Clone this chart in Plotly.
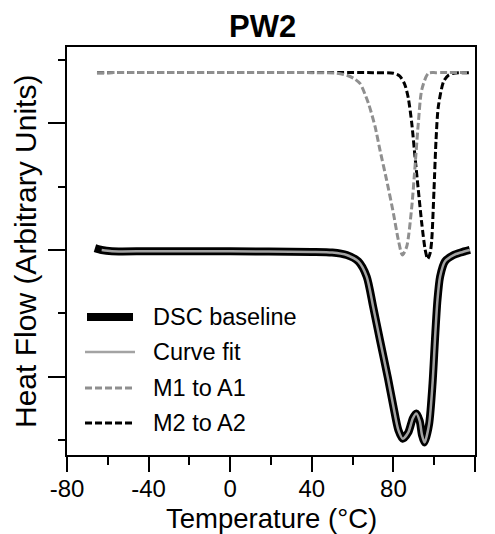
import plotly.graph_objects as go

# ---------------- data ----------------
dsc_temp = [-66.3, -63, -58, -40, 0, 40, 50, 57.1, 62.8, 66.9, 70.1, 73.4, 77.3, 80, 82.4,
            84.6, 87.3, 89.5, 91.2, 92.9, 94.0, 95.3, 97.5, 99.2, 100.4, 101.6, 102.9,
            105.3, 109.5, 113, 117.5]
dsc_heat = [3.03, 3.0, 2.98, 2.98, 2.98, 2.97, 2.96, 2.92, 2.82, 2.58, 2.1, 1.58, 0.98, 0.53, 0.16,
            0.02, 0.12, 0.34, 0.42, 0.3, 0.08, -0.04, 0.25, 0.9, 1.6, 2.21, 2.58,
            2.82, 2.92, 2.96, 3.0]

fit_temp = [-63, -58, -40, 0, 40, 50, 57.1, 62.8, 66.9, 70.1, 73.4, 77.3, 80, 82.4,
            84.6, 87.3, 89.5, 91.2, 92.9, 94.0, 95.3, 97.5, 99.2, 100.4, 101.6, 102.9,
            105.3, 109.5, 113, 117.5]
fit_heat = [3.0, 2.98, 2.98, 2.98, 2.97, 2.96, 2.92, 2.82, 2.58, 2.1, 1.58, 0.98, 0.53, 0.16,
            0.02, 0.12, 0.34, 0.42, 0.3, 0.08, -0.04, 0.25, 0.9, 1.6, 2.21, 2.58,
            2.82, 2.92, 2.96, 3.0]

m1_temp = [-65.3, 40, 52, 57, 60.5, 63.6, 67.7, 71, 73.4, 76.7, 80, 82.4, 84.4, 86.5,
           89, 90.6, 92.2, 93.9, 97.1, 101, 117]
m1_heat = [5.8, 5.8, 5.79, 5.76, 5.71, 5.63, 5.32, 4.95, 4.58, 4.1, 3.58, 3.16, 2.92, 3.05,
           3.68, 4.32, 5.0, 5.53, 5.79, 5.8, 5.8]

m2_temp = [-65.3, 70, 80, 83, 85.5, 87.3, 89, 90.6, 92.2, 93.9, 95.6, 96.8, 98, 98.8,
           99.9, 100.9, 102, 104.6, 107, 109.5, 117]
m2_heat = [5.8, 5.8, 5.79, 5.75, 5.62, 5.4, 5.0, 4.47, 3.95, 3.42, 3.0, 2.86, 2.95, 3.16,
           3.95, 4.74, 5.26, 5.66, 5.76, 5.79, 5.8]

legend_labels = ["DSC baseline", "Curve fit", "M1 to A1", "M2 to A2"]
x_tick_vals = [-80, -40, 0, 40, 80, 120]
x_tick_text = ["-80", "-40", "0", "40", "80", "120"]
x_title = "Temperature (°C)"
y_title = "Heat Flow (Arbitrary Units)"
chart_title = "PW2"

# ---------------- styling ----------------
W, H = 495, 534
ML, MR, MT, MB = 67, 20, 47, 79
PW, PH = W - ML - MR, H - MT - MB
FONT = "Liberation Sans, Arial, Helvetica, sans-serif"
GRAY_DASH = "#8f8f8f"
GRAY_FIT = "#a3a3a3"
DASH = "7px,3px"
SM = 0.7

fig = go.Figure()
fig.add_trace(go.Scatter(x=m2_temp, y=m2_heat, mode="lines", name=legend_labels[3],
                         line=dict(color="black", width=3, dash=DASH, shape="spline", smoothing=SM)))
fig.add_trace(go.Scatter(x=m1_temp, y=m1_heat, mode="lines", name=legend_labels[2],
                         line=dict(color=GRAY_DASH, width=3, dash=DASH, shape="spline", smoothing=SM)))
fig.add_trace(go.Scatter(x=dsc_temp, y=dsc_heat, mode="lines", name=legend_labels[0],
                         line=dict(color="black", width=8, shape="spline", smoothing=SM)))
fig.add_trace(go.Scatter(x=fit_temp, y=fit_heat, mode="lines", name=legend_labels[1],
                         line=dict(color=GRAY_FIT, width=2.5, shape="spline", smoothing=SM)))


def px_x(px):
    return (px - ML) / PW


def px_y(py):
    return (H - MB - py) / PH


# custom legend
leg_rows = [317, 352, 388, 423]
leg_styles = [dict(color="black", width=8), dict(color=GRAY_FIT, width=2.5),
              dict(color=GRAY_DASH, width=3, dash=DASH), dict(color="black", width=3, dash=DASH)]
leg_x = [(87, 133), (85, 135), (85, 135), (85, 135)]
for row, style, (x0, x1), lab in zip(leg_rows, leg_styles, leg_x, legend_labels):
    fig.add_shape(type="line", xref="paper", yref="paper",
                  x0=px_x(x0), x1=px_x(x1), y0=px_y(row), y1=px_y(row), line=style)
    fig.add_annotation(xref="paper", yref="paper", x=px_x(151), y=px_y(row),
                       xanchor="left", yanchor="middle", text=lab, showarrow=False,
                       font=dict(size=23.5, color="black", family=FONT))

# axis titles and chart title as positioned text
fig.add_annotation(xref="paper", yref="paper", x=px_x(271.5), y=px_y(535),
                   xanchor="center", yanchor="bottom", text=x_title, showarrow=False,
                   borderpad=0, font=dict(size=27.5, color="black", family=FONT))
fig.add_annotation(xref="paper", yref="paper", x=px_x(25), y=px_y(252),
                   xanchor="center", yanchor="middle", text=y_title, showarrow=False,
                   textangle=-90, font=dict(size=30, color="black", family=FONT))
fig.add_annotation(xref="paper", yref="paper", x=px_x(262), y=px_y(27),
                   xanchor="center", yanchor="middle", text="<b>" + chart_title + "</b>",
                   showarrow=False, font=dict(size=31, color="black", family=FONT))

fig.update_layout(
    width=W, height=H,
    margin=dict(l=ML, r=MR, t=MT, b=MB, autoexpand=False),
    paper_bgcolor="white", plot_bgcolor="white",
    showlegend=False,
    font=dict(family=FONT, color="black"),
)
fig.update_xaxes(range=[-80, 120], tickvals=x_tick_vals, ticktext=x_tick_text,
                 ticks="outside", ticklen=15, tickwidth=1.5, tickcolor="black",
                 ticklabelstandoff=-4,
                 minor=dict(ticks="outside", ticklen=8, tickwidth=1.5, tickcolor="black",
                            tick0=-60, dtick=40),
                 showline=True, linecolor="black", linewidth=1.5, mirror=True,
                 showgrid=False, zeroline=False, automargin=False,
                 tickfont=dict(size=24, color="black", family=FONT))
fig.update_yaxes(range=[-0.237, 6.205], tick0=1, dtick=2,
                 ticks="outside", ticklen=17, tickwidth=1.5, tickcolor="black",
                 minor=dict(ticks="outside", ticklen=7, tickwidth=1.5, tickcolor="black",
                            tick0=0, dtick=2),
                 showticklabels=False, automargin=False,
                 showline=True, linecolor="black", linewidth=1.5, mirror=True,
                 showgrid=False, zeroline=False)

fig.write_html("out.html")
